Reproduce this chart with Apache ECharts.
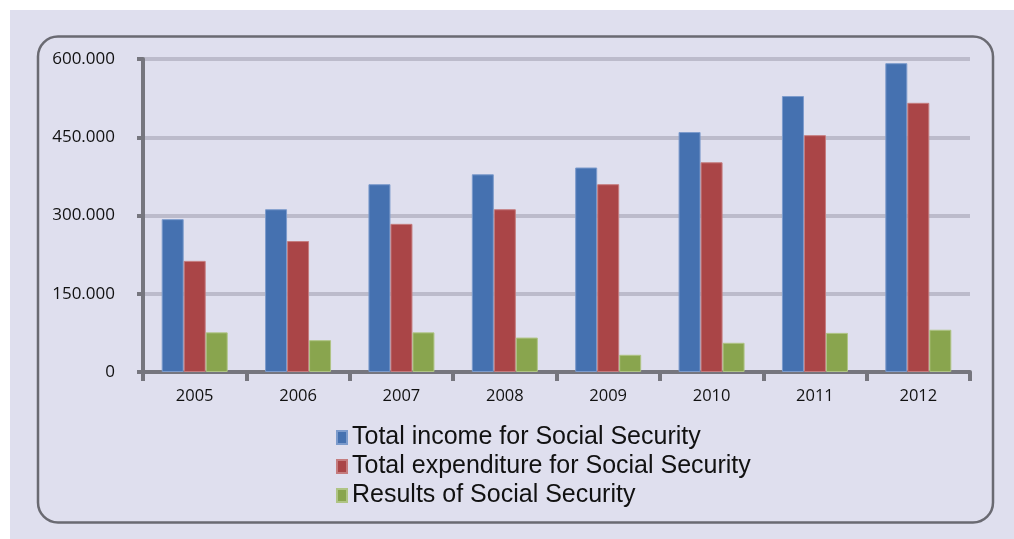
<!DOCTYPE html>
<html>
<head>
<meta charset="utf-8">
<script src="https://cdn.jsdelivr.net/npm/echarts@6/dist/echarts.min.js"></script>
<style>
html,body{margin:0;padding:0;background:#ffffff;}
#chart{width:1014px;height:539px;}
</style>
</head>
<body>
<div id="chart"></div>
<script>
const categories = ['2005','2006','2007','2008','2009','2010','2011','2012'];
const incomeValues = [293, 312, 360, 379, 392, 460, 529, 592];
const expenditureValues = [213, 251, 284, 312, 360, 402, 454, 516];
const resultValues = [76, 61, 76, 66, 33, 56, 75, 81];
const seriesNames = ['Total income for Social Security','Total expenditure for Social Security','Results of Social Security'];
const yTicks = {min: 0, max: 600, interval: 150};

const chart = echarts.init(document.getElementById('chart'));
const colors = ['#4571B0', '#AA4547', '#89A54E'];
const borders = ['#7C9BCC', '#C57C7E', '#AFC484'];
const values = [incomeValues, expenditureValues, resultValues];

chart.setOption({
  backgroundColor: 'transparent',
  animation: false,
  graphic: [
    {type: 'rect', z: -100, silent: true, shape: {x: 10, y: 10, width: 1004, height: 529}, style: {fill: '#DFDFEE'}},
    {type: 'rect', z: 100, silent: true, shape: {x: 38, y: 36.5, width: 955, height: 486, r: 20}, style: {fill: 'none', stroke: '#6A6A72', lineWidth: 2.5}}
  ],
  grid: {left: 143, right: 44, top: 59, bottom: 167, containLabel: false},
  legend: {
    orient: 'vertical',
    left: 331,
    top: 420,
    itemGap: 4,
    itemWidth: 10,
    itemHeight: 13,
    icon: 'rect',
    data: seriesNames,
    textStyle: {fontFamily: 'Liberation Sans, Arial, sans-serif', fontSize: 25, color: '#111', lineHeight: 25, padding: [0,0,0,0]}
  },
  xAxis: {
    type: 'category',
    data: categories,
    axisLine: {lineStyle: {color: '#76767E', width: 4}},
    axisTick: {show: true, length: 9, lineStyle: {color: '#76767E', width: 4}},
    axisLabel: {fontFamily: 'Open Sans, sans-serif', fontSize: 16.5, color: '#111', margin: 16},
    splitLine: {show: false}
  },
  yAxis: {
    type: 'value',
    min: yTicks.min, max: yTicks.max, interval: yTicks.interval,
    axisLine: {show: true, lineStyle: {color: '#76767E', width: 4}},
    axisTick: {show: true, length: 6, lineStyle: {color: '#76767E', width: 4}},
    axisLabel: {fontFamily: 'Open Sans, sans-serif', fontSize: 17, color: '#111', margin: 28,
      formatter: v => v === 0 ? '0' : v + '.000'},
    splitLine: {show: true, lineStyle: {color: '#BCBBCB', width: 4}}
  },
  series: seriesNames.map((name, i) => ({
    name: name,
    type: 'bar',
    data: values[i],
    barWidth: 22,
    barGap: '0%',
    itemStyle: {color: colors[i], borderColor: borders[i], borderWidth: 1}
  }))
});
</script>
</body>
</html>
